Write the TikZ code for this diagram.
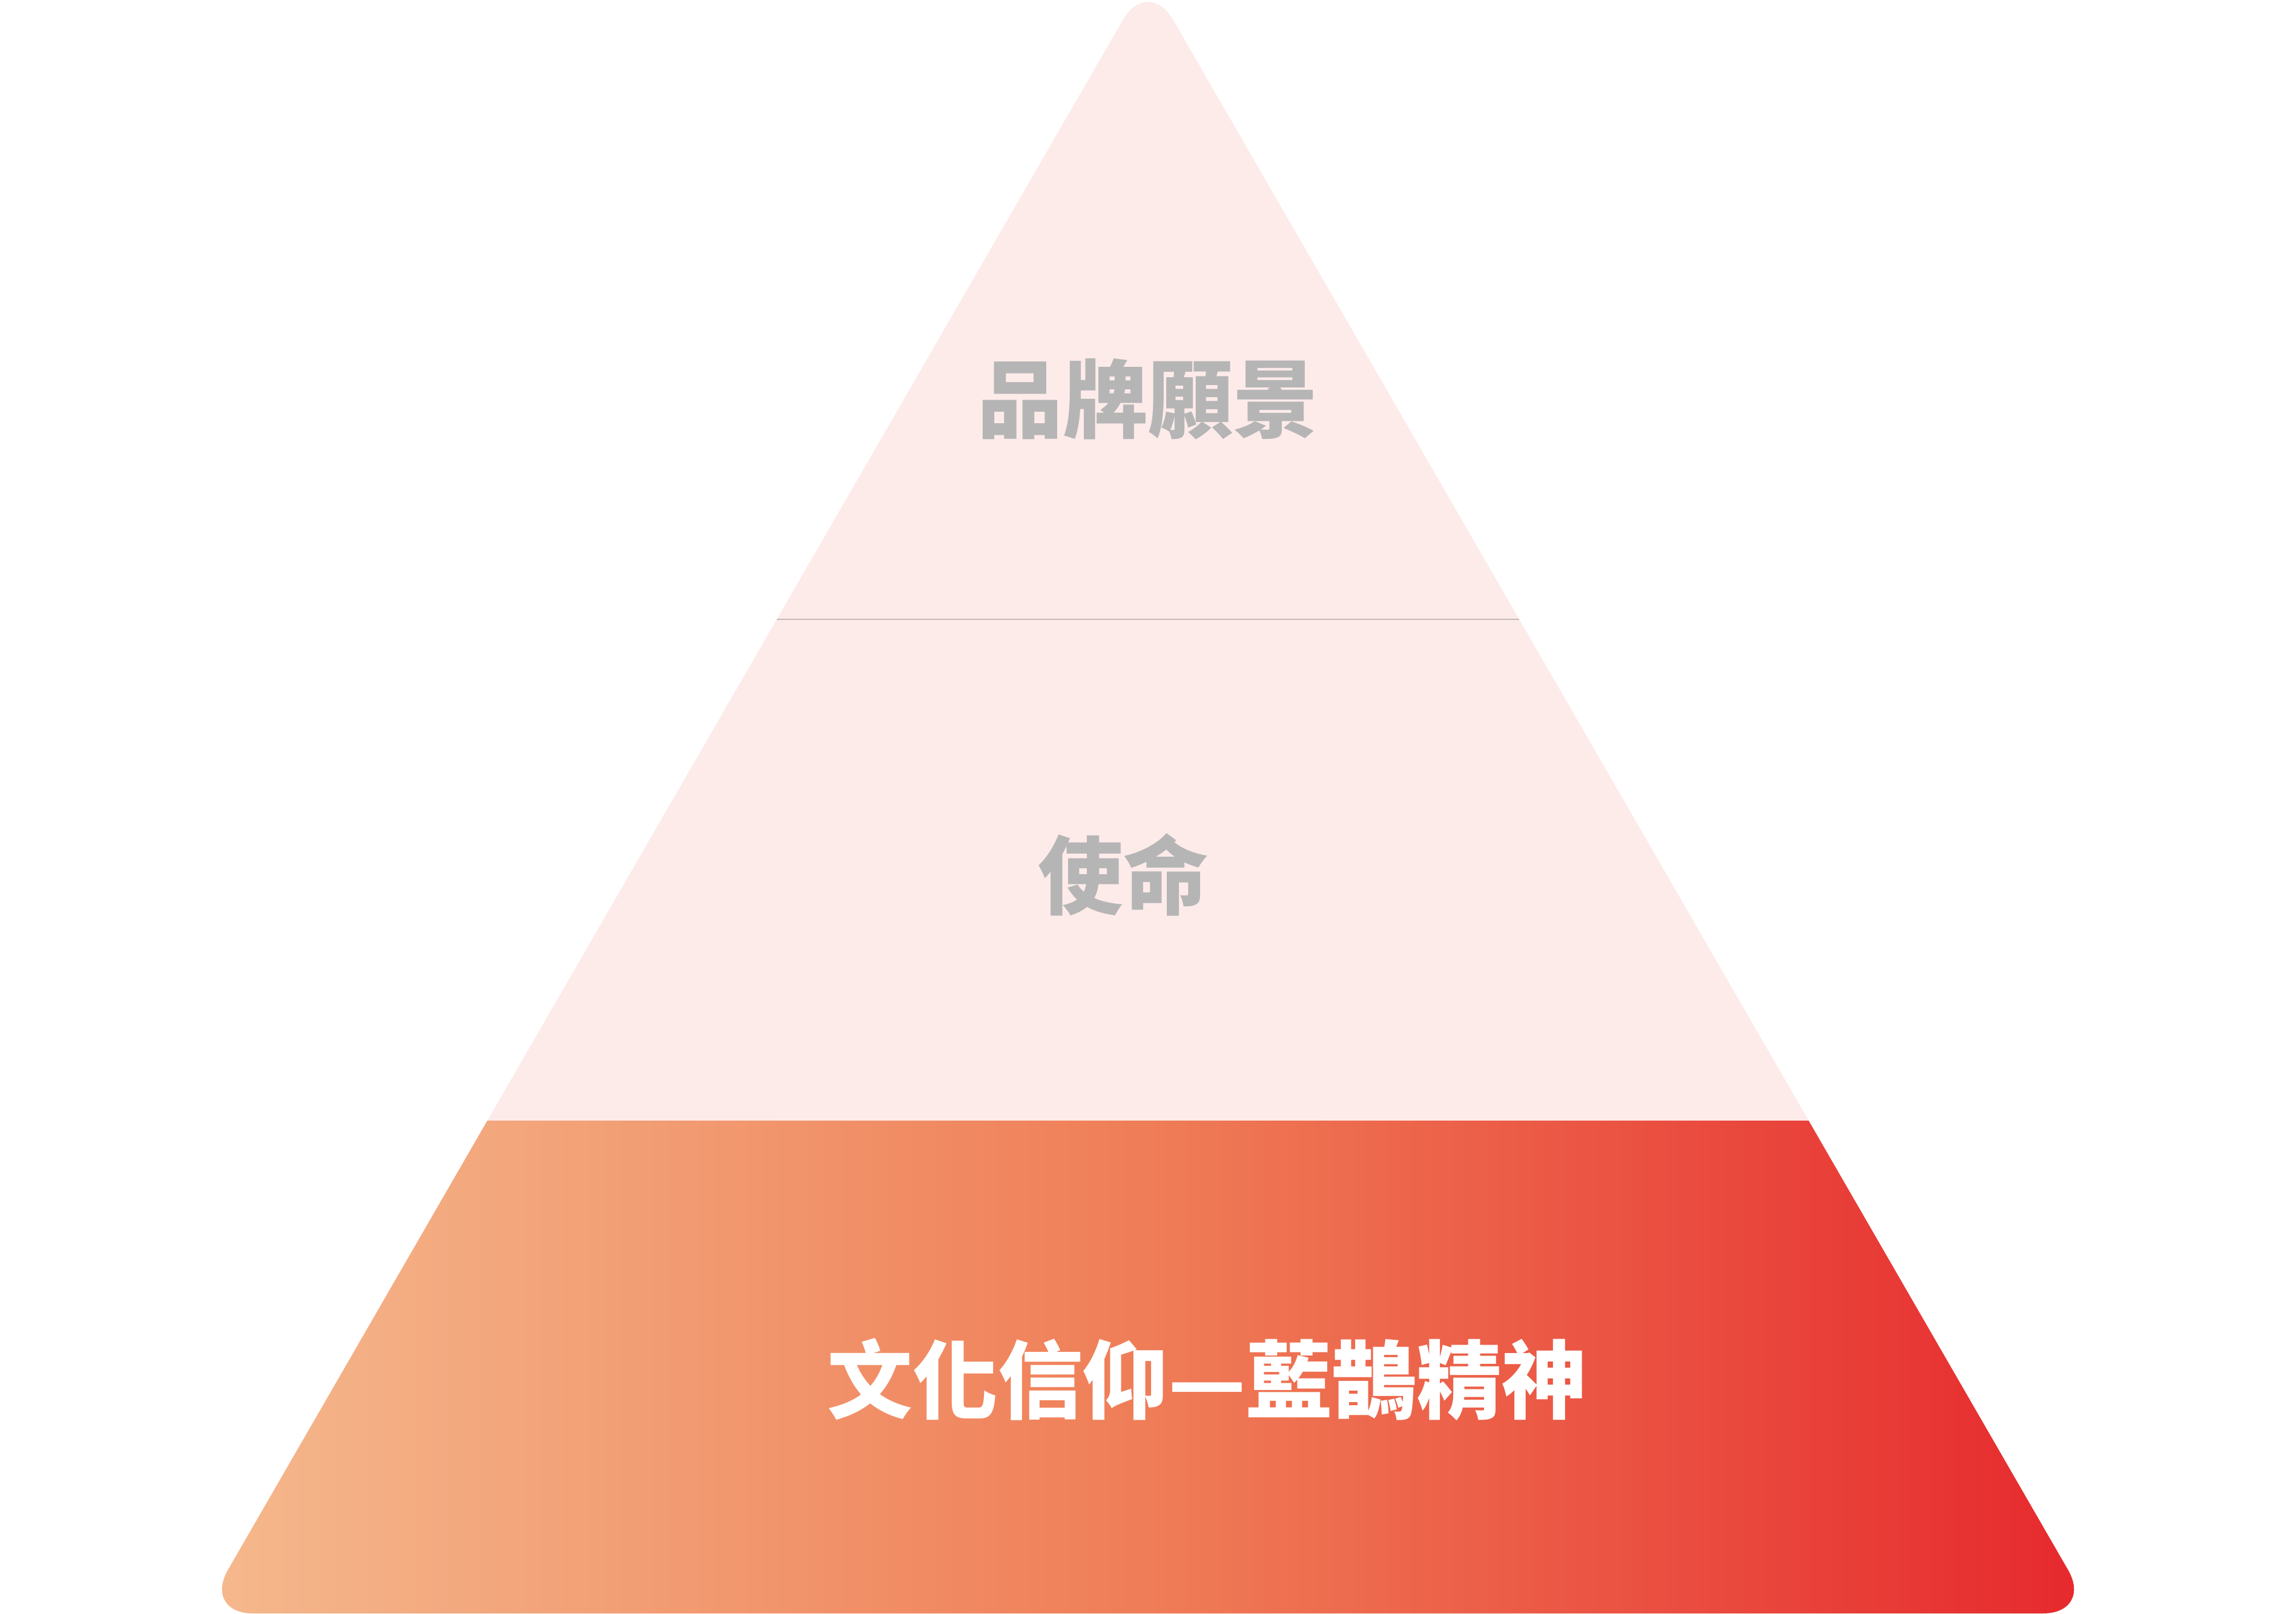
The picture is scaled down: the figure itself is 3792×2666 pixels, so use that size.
\documentclass[tikz,border=0pt]{standalone}
\usepackage{fontspec}
\usepackage{xcolor}
\usepackage{tikz}
\usetikzlibrary{positioning}
\newfontfamily\cjk{Noto Sans CJK TC}

\definecolor{pinkfill}{HTML}{FDEBEA}
\definecolor{textgrey}{HTML}{B5B5B5}
\definecolor{linegrey}{HTML}{C9B8B8}
\definecolor{baseleft}{HTML}{F5B98D}
\definecolor{basemid}{HTML}{EF7D57}
\definecolor{baseright}{HTML}{E6282D}

\begin{document}
\begin{tikzpicture}[
			x=0.01cm, y=-0.01cm,
			every node/.style={inner sep=0pt, font=\cjk\bfseries\fontsize{40}{41}\selectfont},
			level/.style={text=textgrey},
			base/.style={text=white},
			pyramid/.style={rounded corners=0.83cm},
			divider/.style={draw=linegrey, line width=0.025cm}
			]
			\useasboundingbox (0,0) rectangle (3792,2666);
			
			% Corners
			\coordinate (apex) at (1896,-39);
			\coordinate (right) at (3457,2665);
			\coordinate (left) at (335,2665);
			\coordinate (div_left) at (1283,1023);
			\coordinate (div_right) at (2509,1023);
			
			% Pyramid
			\path [pyramid, fill=pinkfill] (apex) -- (right) -- (left) -- cycle;
			\begin{scope}
				\clip (0,1851) rectangle (3792,2666);
				\path [pyramid, left color=baseleft, right color=baseright, middle color=basemid] (apex) -- (right) -- (left) -- cycle;
			\end{scope}
			\draw [divider] (div_left) -- (div_right);
			
			% Nodes
			\node (vision) [level] at (1896,659) {品牌願景};
			\node (mission) [level] at (1855,1445) {使命};
			\node (belief) [base] at (1994,2279) {文化信仰—藍鵲精神};
			
		\end{tikzpicture}
\end{document}
